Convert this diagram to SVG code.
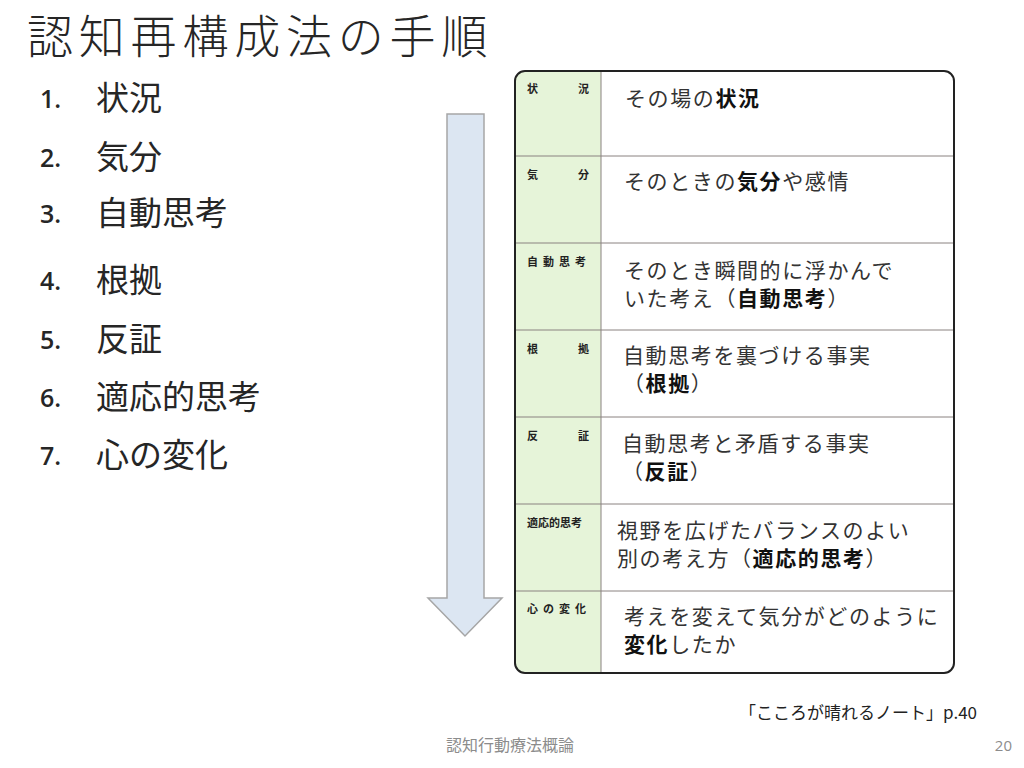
<svg xmlns="http://www.w3.org/2000/svg" width="1024" height="768" viewBox="0 0 1024 768">
<style>
.t{font-family:"Noto Sans CJK JP","Noto Sans",sans-serif;fill:#333}
.title{font-size:46px;font-weight:300;fill:#262626}
.li{font-size:33px;fill:#262626}
.num{font-family:"Open Sans","Noto Sans",sans-serif;font-size:25px;font-weight:600;fill:#262626}
.lab{font-family:"Noto Sans CJK JP",sans-serif;font-size:11px;font-weight:700;fill:#222}
.cell{font-family:"Noto Sans CJK JP",sans-serif;font-size:21px;fill:#333;letter-spacing:1.6px}
.b{font-weight:700;fill:#111}
.div{stroke:#8a8280;stroke-width:1}
.foot{fill:#8c8c8c}
.cite{fill:#222}
</style>
<rect width="1024" height="768" fill="#fff"/>
<text class="t title" x="27" y="53" letter-spacing="5.8">認知再構成法の手順</text>
<g id="list">
<text class="num" x="40" y="108">1.</text><text class="t li" x="96" y="110">状況</text>
<text class="num" x="40" y="167">2.</text><text class="t li" x="96" y="169">気分</text>
<text class="num" x="40" y="223">3.</text><text class="t li" x="96" y="225">自動思考</text>
<text class="num" x="40" y="290">4.</text><text class="t li" x="96" y="292">根拠</text>
<text class="num" x="40" y="349">5.</text><text class="t li" x="96" y="351">反証</text>
<text class="num" x="40" y="407">6.</text><text class="t li" x="96" y="409">適応的思考</text>
<text class="num" x="40" y="465">7.</text><text class="t li" x="96" y="467">心の変化</text>
</g>
<g id="arrow">
<polygon points="447,114 484,114 484,598 502,598 465,636 428,598 447,598" fill="#dce6f2" stroke="#a6a6a6" stroke-width="1.5"/>
</g>
<g id="table">
<rect x="515" y="71" width="439" height="602" rx="10" fill="#fff"/>
<path d="M525,71 H601 V673 H525 A10,10 0 0 1 515,663 V81 A10,10 0 0 1 525,71 Z" fill="#e6f4d9"/>
<line class="div" x1="601" y1="71" x2="601" y2="673"/>
<line class="div" x1="515" y1="156" x2="954" y2="156"/>
<line class="div" x1="515" y1="243" x2="954" y2="243"/>
<line class="div" x1="515" y1="330" x2="954" y2="330"/>
<line class="div" x1="515" y1="417" x2="954" y2="417"/>
<line class="div" x1="515" y1="504" x2="954" y2="504"/>
<line class="div" x1="515" y1="591" x2="954" y2="591"/>
<rect x="515" y="71" width="439" height="602" rx="10" fill="none" stroke="#222" stroke-width="2"/>
</g>
<g id="row1">
<text class="lab" x="527" y="93">状</text><text class="lab" x="578" y="93">況</text>
<text class="cell" x="625" y="106">その場の<tspan class="b">状況</tspan></text>
</g>
<g id="row2">
<text class="lab" x="527" y="179">気</text><text class="lab" x="578" y="179">分</text>
<text class="cell" x="624" y="189">そのときの<tspan class="b">気分</tspan>や感情</text>
</g>
<g id="row3">
<text class="lab" x="527" y="266" letter-spacing="5">自動思考</text>
<text class="cell" x="624" y="278">そのとき瞬間的に浮かんで</text>
<text class="cell" x="624" y="306">いた考え（<tspan class="b">自動思考</tspan>）</text>
</g>
<g id="row4">
<text class="lab" x="527" y="353">根</text><text class="lab" x="578" y="353">拠</text>
<text class="cell" x="623" y="363">自動思考を裏づける事実</text>
<text class="cell" x="623" y="391">（<tspan class="b">根拠</tspan>）</text>
</g>
<g id="row5">
<text class="lab" x="527" y="440">反</text><text class="lab" x="578" y="440">証</text>
<text class="cell" x="622" y="451">自動思考と矛盾する事実</text>
<text class="cell" x="622" y="479">（<tspan class="b">反証</tspan>）</text>
</g>
<g id="row6">
<text class="lab" x="527" y="527">適応的思考</text>
<text class="cell" x="617" y="538">視野を広げたバランスのよい</text>
<text class="cell" x="617" y="566">別の考え方（<tspan class="b">適応的思考</tspan>）</text>
</g>
<g id="row7">
<text class="lab" x="527" y="613" letter-spacing="5">心の変化</text>
<text class="cell" x="624" y="624">考えを変えて気分がどのように</text>
<text class="cell" x="624" y="652"><tspan class="b">変化</tspan>したか</text>
</g>
<text class="t cite" x="977" y="719" font-size="17" text-anchor="end">「こころが晴れるノート」p.40</text>
<text class="t foot" x="446" y="751" font-size="16">認知行動療法概論</text>
<text class="foot" x="1012" y="751" font-family="Open Sans, sans-serif" font-size="15" text-anchor="end">20</text>
</svg>
